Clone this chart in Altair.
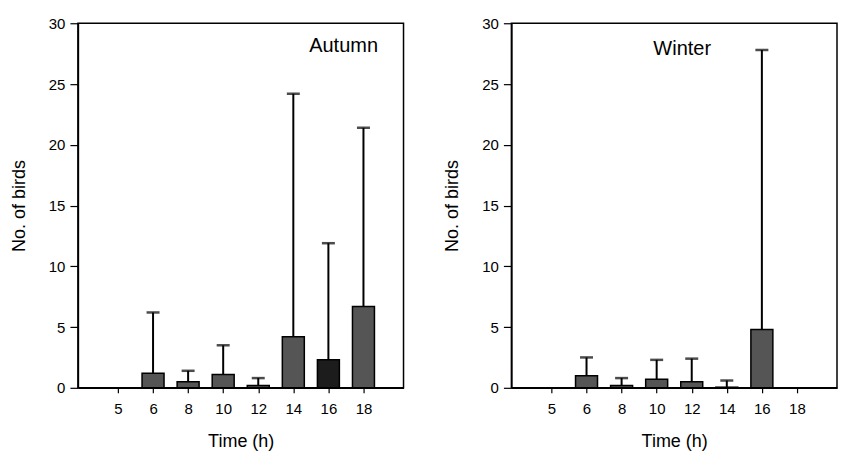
import altair as alt
import pandas as pd

times = ["5", "6", "8", "10", "12", "14", "16", "18"]
autumn_mean = [0, 1.2, 0.5, 1.1, 0.2, 4.2, 2.3, 6.7]
autumn_upper = [0, 6.2, 1.4, 3.5, 0.8, 24.2, 11.9, 21.4]
winter_mean = [0, 1.0, 0.2, 0.7, 0.5, 0.05, 4.8, 0]
winter_upper = [0, 2.5, 0.8, 2.3, 2.4, 0.6, 27.8, 0]
y_ticks = [0, 5, 10, 15, 20, 25, 30]

FONT = "Liberation Sans"

rows = []
for season, means, uppers in [("Autumn", autumn_mean, autumn_upper),
                              ("Winter", winter_mean, winter_upper)]:
    for i, (t, m, u) in enumerate(zip(times, means, uppers)):
        rows.append({"season": season, "time": t, "pos": i + 1, "mean": m, "upper": u})
df = pd.DataFrame(rows)

label_expr = "[" + ",".join("'%s'" % t for t in times) + "][datum.value - 1]"


def panel(season, tx, ty):
    d = df[df.season == season]
    e = d[d.upper > d["mean"]]
    x = alt.X("pos:Q", scale=alt.Scale(domain=[0, len(times) + 1], nice=False),
              axis=alt.Axis(values=list(range(1, len(times) + 1)), labelExpr=label_expr,
                            title="Time (h)", grid=False, tickSize=5, labelPadding=9,
                            titlePadding=16, domainColor="black", tickColor="black",
                            domainWidth=1.5, tickWidth=1.2))
    y = alt.Y("mean:Q", scale=alt.Scale(domain=[0, 30], nice=False),
              axis=alt.Axis(values=y_ticks, title="No. of birds", grid=False, tickSize=8,
                            labelPadding=5, titlePadding=20, domainColor="black",
                            tickColor="black", domainWidth=1.5, tickWidth=1.2))
    bars = alt.Chart(d).mark_bar(size=22, stroke="black", strokeWidth=1.5).encode(
        x=x, y=y,
        color=alt.condition(
            (alt.datum.season == "Autumn") & (alt.datum.time == "16"),
            alt.value("#1c1c1c"), alt.value("#555555")))
    err = alt.Chart(e).mark_rule(color="black", strokeWidth=2).encode(
        x="pos:Q", y="mean:Q", y2="upper:Q")
    caps = alt.Chart(e).mark_tick(orient="horizontal", size=13, thickness=2.5,
                                  color="black").encode(x="pos:Q", y="upper:Q")
    label = alt.Chart(pd.DataFrame({"t": [season]})).mark_text(
        font=FONT, fontSize=20, color="black", align="center", baseline="middle").encode(
        text="t:N", x=alt.value(tx), y=alt.value(ty))
    return alt.layer(err, bars, caps, label).properties(width=326, height=365)


chart = alt.hconcat(
    panel("Autumn", 266, 23),
    panel("Winter", 171, 26),
    spacing=108, bounds="flush"
).properties(padding={"left": 1, "top": 7, "right": 0, "bottom": 0}).configure_view(
    stroke="black", strokeWidth=1.5
).configure_axis(
    labelFont=FONT, titleFont=FONT, labelFontSize=15, titleFontSize=18,
    labelColor="black", titleColor="black", titleFontWeight="normal"
)

chart.save("out.html", embed_options={"renderer": "svg", "actions": False})
